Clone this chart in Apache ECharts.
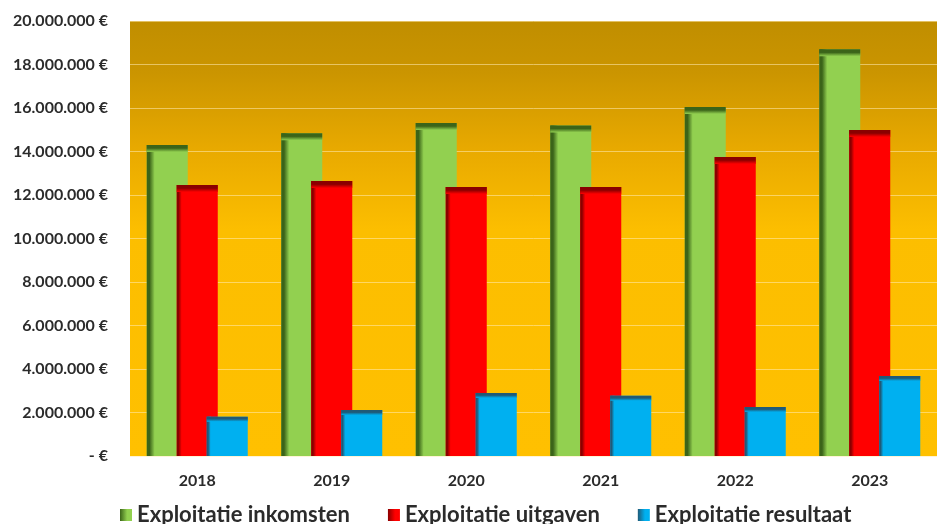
<!DOCTYPE html>
<html><head><meta charset="utf-8">
<script src="https://cdn.jsdelivr.net/npm/echarts@6/dist/echarts.min.js"></script>
<style>html,body{margin:0;padding:0;background:#fff}#c{width:937px;height:524px}</style>
</head><body><div id="c"></div>
<script>
const years = ['2018','2019','2020','2021','2022','2023'];
const inkomsten = [14300000, 14840000, 15310000, 15200000, 16050000, 18700000];
const uitgaven  = [12460000, 12640000, 12370000, 12370000, 13750000, 14990000];
const resultaat = [1810000, 2110000, 2900000, 2770000, 2250000, 3680000];
const seriesNames = ['Exploitatie inkomsten','Exploitatie uitgaven','Exploitatie resultaat'];
const yTicks = {min: 0, max: 20000000, interval: 2000000};

const styles = [
  {fill:'#92d050', dark:'#3b6419', left:8, top:7},
  {fill:'#ff0000', dark:'#8a0000', left:5, top:7},
  {fill:'#00b0f0', dark:'#1f5a78', left:4, top:5}
];

function fmt(v){
  if (v === 0) return '- €';
  return String(v).replace(/\B(?=(\d{3})+(?!\d))/g,'.') + ' €';
}

function makeRender(s){
  return function(params, api){
    const idx = api.value(0);
    const val = api.value(1);
    const top = api.coord([idx, val]);
    const base = api.coord([idx, 0]);
    const band = api.size([1, 0])[0];
    const w = band * 41 / 134.5;
    const step = band * 30 / 134.5;
    const cx = top[0] + (s - 1) * step;
    const x = cx - w / 2;
    const y = top[1];
    const h = base[1] - top[1];
    const st = styles[s];
    const G = echarts.graphic;
    return {
      type: 'group',
      children: [
        {type:'rect', shape:{x:x, y:y, width:w, height:h}, style:{fill: st.fill}},
        {type:'rect', shape:{x:x, y:y, width:st.left, height:h},
          style:{fill: new G.LinearGradient(0,0,1,0,[{offset:0,color:st.dark},{offset:0.35,color:st.dark},{offset:1,color:st.fill}])}},
        {type:'rect', shape:{x:x, y:y, width:w, height:st.top},
          style:{fill: new G.LinearGradient(0,0,0,1,[{offset:0,color:st.dark},{offset:0.45,color:st.dark},{offset:1,color:st.fill}])}}
      ]
    };
  };
}

const dataSets = [inkomsten, uitgaven, resultaat];
const chart = echarts.init(document.getElementById('c'), null, {renderer:'canvas'});
const font = 'Lato';
chart.setOption({
  animation: false,
  grid: {
    left: 130, right: 0, top: 21, bottom: 68, show: true, borderWidth: 0,
    backgroundColor: new echarts.graphic.LinearGradient(0,0,0,1,[
      {offset:0, color:'#c08e00'},
      {offset:0.12, color:'#cb9500'},
      {offset:0.3, color:'#e9aa00'},
      {offset:0.48, color:'#fcbe00'},
      {offset:1, color:'#ffc000'}
    ])
  },
  legend: {
    left: 115, top: 499, itemWidth: 12, itemHeight: 12, itemGap: 38, icon: 'rect',
    textStyle: {fontFamily: font, fontWeight: 'bold', fontSize: 22, color: '#2b2b2b'},
    data: seriesNames.map((n, i) => ({name: n, itemStyle: {color: new echarts.graphic.LinearGradient(0,0,1,0,[{offset:0,color:styles[i].dark},{offset:0.6,color:styles[i].fill},{offset:1,color:styles[i].fill}])}}))
  },
  xAxis: {
    type: 'category', data: years,
    axisLine: {show: false}, axisTick: {show: false},
    axisLabel: {margin: 17, fontFamily: font, fontWeight: 'bold', fontSize: 16, color: '#2b2b2b'}
  },
  yAxis: {
    type: 'value', min: yTicks.min, max: yTicks.max, interval: yTicks.interval,
    axisLine: {show: false}, axisTick: {show: false},
    splitLine: {lineStyle: {color: 'rgba(255,235,180,0.55)', width: 1}},
    axisLabel: {margin: 22, formatter: fmt, fontFamily: font, fontWeight: 'bold', fontSize: 16, color: '#2b2b2b'}
  },
  series: dataSets.map((d, s) => ({
    type: 'custom', name: seriesNames[s],
    itemStyle: {color: styles[s].fill},
    renderItem: makeRender(s),
    encode: {x: 0, y: 1},
    data: d.map((v, i) => [i, v]),
    z: 2 + s
  }))
});
</script></body></html>
